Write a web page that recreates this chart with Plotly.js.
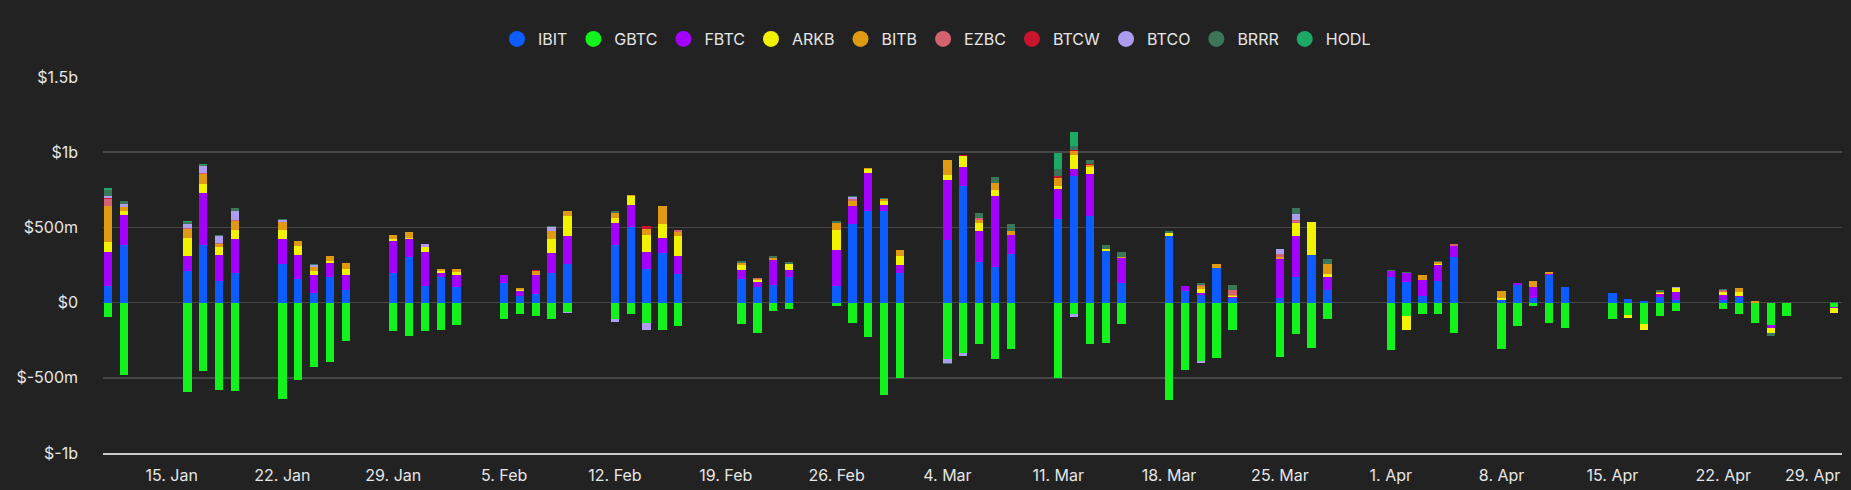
<!DOCTYPE html>
<html>
<head>
<meta charset="utf-8">
<script src="https://cdn.plot.ly/plotly-3.0.1.min.js"></script>
<style>
  html, body { margin: 0; padding: 0; background: #222222; }
  #chart { width: 1851px; height: 490px; }
</style>
</head>
<body>
<div id="chart"></div>
<script>
// ── Data: daily net flows per spot bitcoin ETF, $m ──────────────────
const dates = [
  "2024-01-11", "2024-01-12", "2024-01-16", "2024-01-17", "2024-01-18", "2024-01-19",
  "2024-01-22", "2024-01-23", "2024-01-24", "2024-01-25", "2024-01-26",
  "2024-01-29", "2024-01-30", "2024-01-31",
  "2024-02-01", "2024-02-02", "2024-02-05", "2024-02-06", "2024-02-07", "2024-02-08", "2024-02-09",
  "2024-02-12", "2024-02-13", "2024-02-14", "2024-02-15", "2024-02-16",
  "2024-02-20", "2024-02-21", "2024-02-22", "2024-02-23",
  "2024-02-26", "2024-02-27", "2024-02-28", "2024-02-29",
  "2024-03-01", "2024-03-04", "2024-03-05", "2024-03-06", "2024-03-07", "2024-03-08",
  "2024-03-11", "2024-03-12", "2024-03-13", "2024-03-14", "2024-03-15",
  "2024-03-18", "2024-03-19", "2024-03-20", "2024-03-21", "2024-03-22",
  "2024-03-25", "2024-03-26", "2024-03-27", "2024-03-28",
  "2024-04-01", "2024-04-02", "2024-04-03", "2024-04-04", "2024-04-05",
  "2024-04-08", "2024-04-09", "2024-04-10", "2024-04-11", "2024-04-12",
  "2024-04-15", "2024-04-16", "2024-04-17", "2024-04-18", "2024-04-19",
  "2024-04-22", "2024-04-23", "2024-04-24", "2024-04-25", "2024-04-26",
  "2024-04-29",
];

const ibit = [
  112, 386, 210, 380, 142, 199, 255, 158, 63, 170, 86, 199, 301, 108,
  170, 102, 131, 45, 59, 199, 255, 380, 504, 221, 328, 188, 154, 104, 120, 170, 113, 520, 610, 610,
  199, 413, 773, 271, 240, 324, 555, 839, 577, 340, 129, 440, 75, 52, 233, 29, 29, 170, 319, 86,
  170, 138, 45, 142, 304, 20, 115, 31, 182, 107, 64, 24, 9, 38, 16, 16, 38, 0, 0, 0, 0,
];
const gbtc = [
  -95, -484, -594, -458, -582, -590, -640, -515, -429, -394, -255, -192, -221, -187,
  -182, -146, -111, -79, -88, -106, -61, -106, -79, -136, -179, -158, -145, -203, -56, -45, -22, -136, -226, -615,
  -502, -377, -333, -275, -373, -309, -504, -75, -275, -266, -144, -648, -445, -389, -371, -179, -359, -212, -303, -111,
  -314, -90, -77, -78, -202, -311, -158, -24, -135, -166, -111, -80, -140, -91, -58, -40, -73, -135, -151, -91, -29,
];
const fbtc = [
  227, 195, 97, 350, 174, 221, 165, 160, 118, 93, 97, 208, 120, 231,
  27, 81, 50, 29, 127, 129, 185, 151, 147, 118, 102, 120, 61, 32, 165, 47, 240, 120, 255, 41,
  52, 400, 129, 206, 466, 127, 202, 51, 280, 0, 166, 0, 34, 11, 0, 5, 260, 271, 0, 84,
  41, 61, 108, 106, 73, 0, 15, 73, 8, 0, 0, 0, 0, 16, 56, 33, 5, 0, -18, 0, -6,
];
const arkb = [
  65, 29, 124, 56, 52, 66, 61, 56, 29, 16, 38, 18, 10, 29,
  11, 20, 0, 9, 0, 97, 136, 29, 56, 108, 90, 136, 38, 13, 0, 38, 133, 0, 25, 23,
  61, 38, 71, 51, 44, 0, 20, 93, 44, 15, 0, 22, 0, 29, 0, 11, 0, 86, 219, 18,
  0, -90, 0, 10, 0, 11, 0, 0, 0, 0, 0, -22, -44, 7, 22, 22, 29, 0, -31, 0, -33,
];
const bitb = [
  238, 23, 57, 68, 22, 59, 56, 38, 27, 34, 43, 22, 38, 0,
  14, 18, 0, 14, 25, 52, 34, 38, 7, 45, 124, 27, 13, 8, 14, 0, 45, 38, 4, 18,
  41, 95, 0, 22, 44, 22, 51, 22, 11, 0, 11, 0, 0, 16, 22, 6, 15, 0, 0, 68,
  0, 0, 33, 10, 0, 47, 0, 38, 11, 0, 0, 0, 0, 11, 0, 0, 22, 9, 0, 0, 0,
];
const ezbc = [
  50, 4, 5, 5, 3, 4, 0, 0, 0, 0, 0, 0, 0, 0,
  0, 0, 0, 0, 0, 0, 0, 0, 0, 0, 0, 9, 0, 8, 0, 0, 0, 12, 0, 0,
  0, 4, 0, 11, 0, 0, 0, 0, 0, 0, 0, 0, 0, 11, 0, 30, 18, 22, 0, 0,
  0, 0, 0, 0, 15, 0, 0, 0, 4, 0, 0, 0, 0, 0, 0, 11, 0, 0, 0, 0, 0,
];
const btcw = [
  1, 1, 0, 0, 0, 0, 0, 0, 0, 0, 0, 0, 0, 0,
  0, 0, 0, 0, 7, 0, 0, 0, 0, 16, 0, 0, 0, 0, 0, 0, 0, 0, 0, 0,
  0, 0, 11, 0, 0, 0, 11, 11, 11, 0, 0, 0, 0, 0, 0, 0, 0, 0, 0, 0,
  0, 0, 0, 0, 0, 0, 0, 0, 0, 0, 0, 0, 0, 0, 0, 0, 0, 0, 0, 0, 0,
];
const btco = [
  17, 20, 28, 47, 50, 62, 10, 0, 14, 0, 0, 0, 0, 22,
  0, 0, 0, 0, 0, 27, -11, -22, 0, -45, 0, 0, 0, 0, 0, 0, 0, 10, 0, 0,
  0, -22, -22, 0, 0, 0, 0, -24, 0, 0, 0, 0, 0, -13, 0, 0, 33, 38, 0, 0,
  0, 0, 0, 0, 0, 0, 0, 0, 0, 0, 0, 0, 0, 0, 9, 0, 0, 0, 0, 0, 0,
];
const brrr = [
  38, 18, 15, 10, 4, 15, 8, 0, 4, 0, 0, 0, 0, 0,
  0, 0, 0, 0, 0, 5, 0, 11, 0, 0, 0, 0, 9, 0, 8, 16, 14, 7, 0, 4,
  0, -6, 0, 38, 44, 49, 49, 27, 27, 29, 33, 11, 0, 11, 0, 39, 0, 45, 0, 33,
  5, 5, 0, 10, 0, 0, 0, 0, 0, 0, 0, 3, 0, 10, 0, 7, 0, 0, -22, 0, 5,
];
const hodl = [
  11, 0, 5, 3, 2, 6, 0, 0, 0, 0, 0, 0, 0, 0,
  0, 0, 0, 0, 0, 0, 0, 0, 0, 0, 0, 0, 0, 0, 0, 0, 0, 0, 0, 0,
  0, 0, 0, 0, 0, 0, 107, 93, 0, 0, 0, 0, 0, 0, 0, 0, 0, 0, 0, 0,
  0, 0, 0, 0, 0, 0, 0, 0, 0, 0, 0, 0, 0, 0, 0, 0, 0, 0, 0, 0, 0,
];

const yTickVals = [-1000, -500, 0, 500, 1000, 1500];
const yTickText = ["$-1b", "$-500m", "$0", "$500m", "$1b", "$1.5b"];
const xTickVals = [
  "2024-01-15", "2024-01-22", "2024-01-29", "2024-02-05", "2024-02-12", "2024-02-19",
  "2024-02-26", "2024-03-04", "2024-03-11", "2024-03-18", "2024-03-25", "2024-04-01",
  "2024-04-08", "2024-04-15", "2024-04-22", "2024-04-29",
];
const xTickText = [
  "15. Jan", "22. Jan", "29. Jan", "5. Feb", "12. Feb", "19. Feb",
  "26. Feb", "4. Mar", "11. Mar", "18. Mar", "25. Mar", "1. Apr",
  "8. Apr", "15. Apr", "22. Apr", "29. Apr",
];

// ── Series setup ────────────────────────────────────────────────────
const SERIES = [
  { name: "IBIT", values: ibit, color: "#0d5cff" },
  { name: "GBTC", values: gbtc, color: "#12f21c" },
  { name: "FBTC", values: fbtc, color: "#a300ff" },
  { name: "ARKB", values: arkb, color: "#f2f200" },
  { name: "BITB", values: bitb, color: "#e09a12" },
  { name: "EZBC", values: ezbc, color: "#d4626f" },
  { name: "BTCW", values: btcw, color: "#c8142e" },
  { name: "BTCO", values: btco, color: "#ad9cf0" },
  { name: "BRRR", values: brrr, color: "#3b7658" },
  { name: "HODL", values: hodl, color: "#1ea866" },
];

const DAY = 86400000;
const traces = [];

for (const s of SERIES) {
  traces.push({
    type: "bar",
    x: dates,
    y: s.values,
    name: s.name,
    legendgroup: s.name,
    showlegend: false,
    width: 0.52 * DAY,
    marker: { color: s.color, line: { width: 0 } },
    hovertemplate: `${s.name}: %{y}m<extra></extra>`,
  });
}

// round legend symbols like the original (bars would show squares)
for (const s of SERIES) {
  traces.push({
    type: "scatter",
    mode: "markers",
    x: [null],
    y: [null],
    name: s.name,
    legendgroup: s.name,
    showlegend: true,
    marker: { color: s.color, size: 17, symbol: "circle" },
    hoverinfo: "skip",
  });
}

// The last date label sits at the right edge; the original nudges it
// inside the chart, so it is drawn as an annotation at that tick.
const lastTick = xTickVals.length - 1;
const axisTickText = xTickText.map((t, i) => (i === lastTick ? "" : t));

const layout = {
  width: 1851,
  height: 490,
  barmode: "relative",
  bargap: 0,
  paper_bgcolor: "#222222",
  plot_bgcolor: "#222222",
  font: { family: "Inter, 'Open Sans', sans-serif", size: 15, color: "#e6e6e6" },
  margin: { l: 103, r: 9, t: 77, b: 37 },
  showlegend: true,
  legend: {
    orientation: "h",
    x: 0.479,
    xanchor: "center",
    y: 1.101,
    yanchor: "middle",
    font: { size: 16, color: "#e6e6e6" },
    itemwidth: 32,
    traceorder: "normal",
    itemclick: false,
  },
  xaxis: {
    type: "date",
    range: ["2024-01-10 16:00", "2024-04-29 12:00"],
    tickvals: xTickVals,
    ticktext: axisTickText,
    showgrid: false,
    zeroline: false,
    showline: true,
    linecolor: "#cccccc",
    linewidth: 2,
    ticks: "",
    tickfont: { size: 16, color: "#e6e6e6" },
    ticklabelstandoff: 7,
  },
  yaxis: {
    range: [-1000, 1500],
    tickvals: yTickVals,
    ticktext: yTickText,
    showgrid: true,
    gridcolor: "#474747",
    gridwidth: 1.5,
    zeroline: false,
    ticks: "",
    tickfont: { size: 16, color: "#e6e6e6" },
    ticklabelstandoff: 24,
  },
  annotations: [{
    x: xTickVals[lastTick],
    y: 0,
    xref: "x",
    yref: "paper",
    yanchor: "top",
    xanchor: "right",
    xshift: 8,
    yshift: -10,
    text: xTickText[lastTick],
    showarrow: false,
    font: { size: 16, color: "#e6e6e6" },
  }],
};

Plotly.newPlot("chart", traces, layout, { displayModeBar: false, staticPlot: true });
</script>
</body>
</html>
